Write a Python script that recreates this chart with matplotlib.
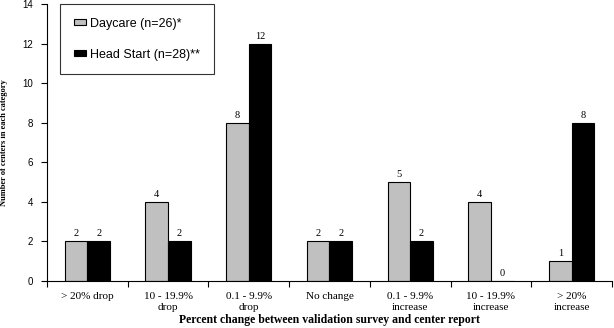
import matplotlib
matplotlib.use("Agg")
import matplotlib.pyplot as plt
import numpy as np

categories = ["> 20% drop", "10 - 19.9%\ndrop", "0.1 - 9.9%\ndrop", "No change",
              "0.1 - 9.9%\nincrease", "10 - 19.9%\nincrease", "> 20%\nincrease"]
daycare = [2, 4, 8, 2, 5, 4, 1]
headstart = [2, 2, 12, 2, 2, 0, 8]
series_labels = ["Daycare (n=26)*", "Head Start (n=28)**"]

fig = plt.figure(figsize=(6.14, 3.28), dpi=100)
ax = fig.add_axes([0.0765, 0.1433, 0.9202, 0.8445])

x = np.arange(len(categories))
w = 0.28
b1 = ax.bar(x - w/2, daycare, w, color="#C0C0C0", edgecolor="black", linewidth=0.8, label=series_labels[0])
b2 = ax.bar(x + w/2, headstart, w, color="black", edgecolor="black", linewidth=0.8, label=series_labels[1])

for rect, v in zip(list(b1) + list(b2), daycare + headstart):
    ax.text(rect.get_x() + rect.get_width()/2, v + 0.15, str(v), ha="center", va="bottom",
            fontsize=7.5, family="Liberation Serif")

ax.set_xlim(-0.5, len(categories) - 0.5)
ax.set_ylim(0, 14)
ax.set_yticks(range(0, 15, 2))
ax.set_xticks(np.arange(-0.5, len(categories), 1.0))
ax.set_xticklabels([])
ax.set_xticks(x, minor=True)
ax.set_xticklabels(categories, minor=True, fontsize=8, family="Liberation Serif")
ax.tick_params(axis="x", which="minor", length=0, pad=8)
ax.tick_params(axis="x", which="major", length=4, direction="out")
ax.tick_params(axis="y", length=4, labelsize=7, pad=6)
for lab in ax.get_yticklabels():
    lab.set_family("Liberation Sans")
for s in ["top", "right"]:
    ax.spines[s].set_visible(False)

ax.set_xlabel("Percent change between validation survey and center report", fontsize=8.5,
              family="Liberation Serif", fontweight="bold", labelpad=2)
ax.set_ylabel("Number of centers in each category", fontsize=6, family="Liberation Serif",
              fontweight="bold", labelpad=10)

leg = ax.legend(loc="upper left", bbox_to_anchor=(0.0235, 1.0), borderaxespad=0, frameon=True,
                fancybox=False, edgecolor="black", handlelength=1.0, handleheight=0.35,
                handletextpad=0.3, labelspacing=1.5, borderpad=1.1,
                prop={"family": "Liberation Sans", "size": 9})
leg.get_frame().set_linewidth(0.8)

fig.savefig("out.png", dpi=100)
